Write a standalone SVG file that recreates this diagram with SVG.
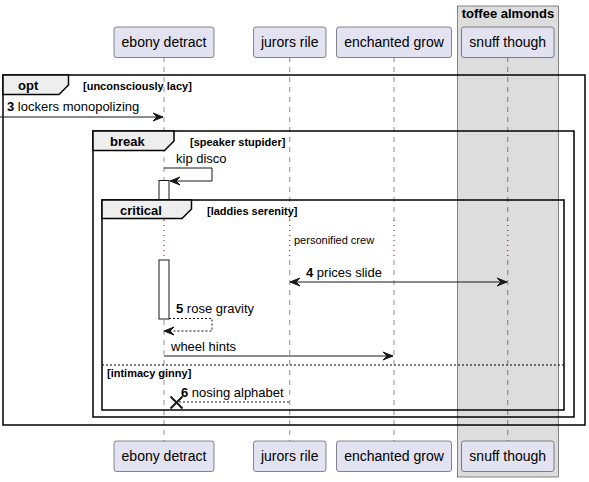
<svg xmlns="http://www.w3.org/2000/svg" width="589" height="482" viewBox="0 0 589 482">
<defs>
<style>
.pbox{fill:#E2E2F0;stroke:#181818;stroke-width:0.5}
.ptxt{font-family:"Liberation Sans",Arial,sans-serif;font-size:14px;fill:#000;text-anchor:middle}
.life{stroke:#181818;stroke-width:0.5;stroke-dasharray:5,5;fill:none}
.delay{stroke:#800000;stroke-width:1;stroke-dasharray:1,4;fill:none}
.frame{fill:none;stroke:#000;stroke-width:1.5}
.tab{fill:#EEEEEE;stroke:#000;stroke-width:1.5}
.ftitle{font-family:"Liberation Sans",Arial,sans-serif;font-size:13px;font-weight:bold;fill:#000}
.fcond{font-family:"Liberation Sans",Arial,sans-serif;font-size:11px;font-weight:bold;fill:#000}
.msg{font-family:"Liberation Sans",Arial,sans-serif;font-size:13px;fill:#000}
.num{font-weight:bold}
.line{stroke:#181818;stroke-width:1;fill:none}
.dline{stroke:#181818;stroke-width:1;fill:none;stroke-dasharray:2,2}
.head{fill:#181818;stroke:#181818;stroke-width:1}
.act{fill:#FFFFFF;stroke:#181818;stroke-width:1}
.small{font-family:"Liberation Sans",Arial,sans-serif;font-size:11px;fill:#000}
</style>
</defs>
<g id="box-toffee-almonds">
<rect x="457.5" y="6" width="101" height="471" fill="#DDDDDD" stroke="#181818" stroke-width="0.5"/>
<text class="ftitle" x="508" y="18" text-anchor="middle">toffee almonds</text>
</g>
<g id="lifelines">
<path class="life" d="M164,57 V220 M164,260 V441 M289.75,57 V220 M289.75,260 V441 M394,57 V220 M394,260 V441 M507.75,57 V220 M507.75,260 V441"/>
<path class="delay" d="M164,220 V260 M289.75,220 V260 M394,220 V260 M507.75,220 V260"/>
<text class="small" x="294" y="244">personified crew</text>
</g>
<g id="p-ebony-detract">
<rect class="pbox" x="114" y="27" width="100" height="30.5" rx="2.5"/>
<text class="ptxt" x="164" y="47">ebony detract</text>
<rect class="pbox" x="114" y="441" width="100" height="30.5" rx="2.5"/>
<text class="ptxt" x="164" y="461">ebony detract</text>
</g>
<g id="p-jurors-rile">
<rect class="pbox" x="253.5" y="27" width="72.5" height="30.5" rx="2.5"/>
<text class="ptxt" x="289.75" y="47">jurors rile</text>
<rect class="pbox" x="253.5" y="441" width="72.5" height="30.5" rx="2.5"/>
<text class="ptxt" x="289.75" y="461">jurors rile</text>
</g>
<g id="p-enchanted-grow">
<rect class="pbox" x="336.5" y="27" width="115" height="30.5" rx="2.5"/>
<text class="ptxt" x="394" y="47">enchanted grow</text>
<rect class="pbox" x="336.5" y="441" width="115" height="30.5" rx="2.5"/>
<text class="ptxt" x="394" y="461">enchanted grow</text>
</g>
<g id="p-snuff-though">
<rect class="pbox" x="461.5" y="27" width="92.5" height="30.5" rx="2.5"/>
<text class="ptxt" x="507.75" y="47">snuff though</text>
<rect class="pbox" x="461.5" y="441" width="92.5" height="30.5" rx="2.5"/>
<text class="ptxt" x="507.75" y="461">snuff though</text>
</g>
<g id="activations">
<rect class="act" x="159" y="180.5" width="10" height="38"/>
<rect class="act" x="159" y="260" width="10" height="59"/>
</g>
<g id="frames">
<g id="frame-opt">
<rect class="frame" x="3" y="75" width="582" height="350"/>
<polygon class="tab" points="3,75 68.5,75 68.5,85 59,94.5 3,94.5"/>
<text class="ftitle" x="18" y="90">opt</text>
<text class="fcond" x="83" y="90">[unconsciously lacy]</text>
</g>
<g id="frame-break">
<rect class="frame" x="93" y="131" width="481" height="286"/>
<polygon class="tab" points="93,131 174,131 174,141 164.5,150.5 93,150.5"/>
<text class="ftitle" x="110" y="146">break</text>
<text class="fcond" x="190" y="146">[speaker stupider]</text>
</g>
<g id="frame-critical">
<rect class="frame" x="102" y="200" width="462" height="210"/>
<polygon class="tab" points="102,200 191.5,200 191.5,209 182,218.5 102,218.5"/>
<text class="ftitle" x="120" y="215">critical</text>
<text class="fcond" x="207" y="215">[laddies serenity]</text>
<line x1="102" y1="365" x2="564" y2="365" stroke="#000" stroke-width="1" stroke-dasharray="2,2"/>
<text class="fcond" x="107" y="377">[intimacy ginny]</text>
</g>
</g>
<g id="connectors">
<g id="m3">
<line class="line" x1="0" y1="117" x2="163" y2="117"/>
<polygon class="head" points="153,113 163,117 153,121 157,117"/>
<text class="msg" x="7" y="111"><tspan class="num">3</tspan> lockers monopolizing</text>
</g>
<g id="m-kip">
<polyline class="line" points="164,168 212,168 212,181 170,181"/>
<polygon class="head" points="180,177 170,181 180,185 176,181"/>
<text class="msg" x="176" y="163">kip disco</text>
</g>
<g id="m4">
<line class="line" x1="290" y1="282" x2="507" y2="282"/>
<polygon class="head" points="300,278 290,282 300,286 296,282"/>
<polygon class="head" points="497,278 507,282 497,286 501,282"/>
<text class="msg" x="306" y="277"><tspan class="num">4</tspan> prices slide</text>
</g>
<g id="m5">
<polyline class="dline" points="169,318.5 212,318.5 212,331 165,331"/>
<polygon class="head" points="174,327 164,331 174,335 170,331"/>
<text class="msg" x="176" y="313"><tspan class="num">5</tspan> rose gravity</text>
</g>
<g id="m-wheel">
<line class="line" x1="164" y1="356" x2="393" y2="356"/>
<polygon class="head" points="383,352 393,356 383,360 387,356"/>
<text class="msg" x="171" y="351">wheel hints</text>
</g>
<g id="m6">
<line class="dline" x1="289" y1="402" x2="177" y2="402"/>
<path d="M170.5,396.5 L182.5,408.5 M182.5,396.5 L170.5,408.5" stroke="#181818" stroke-width="2"/>
<text class="msg" x="181" y="397"><tspan class="num">6</tspan> nosing alphabet</text>
</g>
</g>
</svg>
